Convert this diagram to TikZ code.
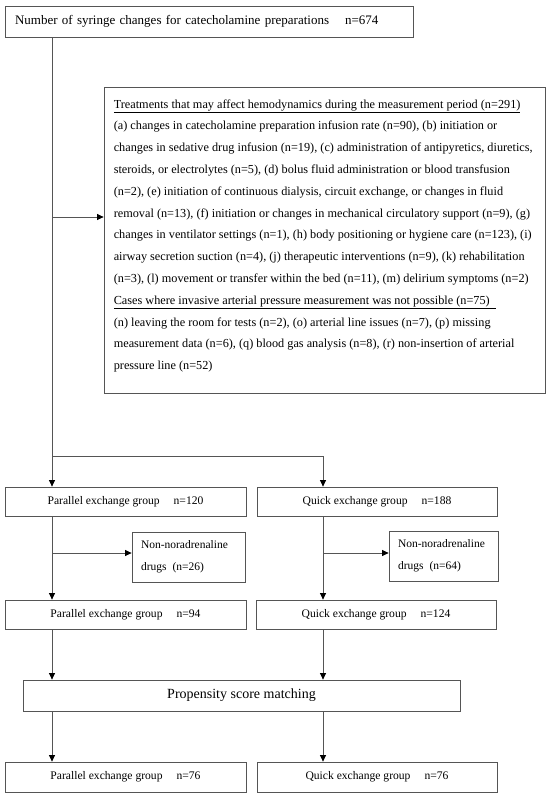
\documentclass[tikz,border=0pt]{standalone}
\usepackage{fontspec}
\setmainfont{Liberation Serif}
\usetikzlibrary{arrows.meta}
\definecolor{linec}{HTML}{555555}
\begin{document}
\begin{tikzpicture}[x=1pt,y=-1pt,
  box/.style={draw=linec,line width=0.8pt,rectangle,inner sep=0pt},
  grp/.style={box,minimum height=29pt,font=\fontsize{11.6}{14}\selectfont},
  arr/.style={draw=linec,line width=0.8pt,-{Triangle[length=6.5pt,width=6pt,color=black]}},
  ln/.style={draw=linec,line width=0.8pt}]
\useasboundingbox (0,0) rectangle (550,797);
% nodes
\node[box,minimum height=31pt,text width=388pt,inner xsep=10pt,align=left,
  font=\fontsize{13}{15}\selectfont] (top) at (209,21.5)
  {Number of syringe changes for catecholamine preparations\hspace{16pt}n=674};
\node[box,minimum width=441pt,minimum height=306pt] (treat) at (324.5,240) {};
\node[anchor=north west,inner sep=0pt,align=left,
  font=\fontsize{12.25}{21.8}\selectfont] (treattext) at ([shift={(10,12.6)}]treat.north west)
  {\underline{Treatments that may affect hemodynamics during the measurement period (n=291)}\\
  (a) changes in catecholamine preparation infusion rate (n=90), (b) initiation or\\
  changes in sedative drug infusion (n=19), (c) administration of antipyretics, diuretics,\\
  steroids, or electrolytes (n=5), (d) bolus fluid administration or blood transfusion\\
  (n=2), (e) initiation of continuous dialysis, circuit exchange, or changes in fluid\\
  removal (n=13), (f) initiation or changes in mechanical circulatory support (n=9), (g)\\
  changes in ventilator settings (n=1), (h) body positioning or hygiene care (n=123), (i)\\
  airway secretion suction (n=4), (j) therapeutic interventions (n=9), (k) rehabilitation\\
  (n=3), (l) movement or transfer within the bed (n=11), (m) delirium symptoms (n=2)\\
  \underline{Cases where invasive arterial pressure measurement was not possible (n=75)\hspace{6pt}}\\
  (n) leaving the room for tests (n=2), (o) arterial line issues (n=7), (p) missing\\
  measurement data (n=6), (q) blood gas analysis (n=8), (r) non-insertion of arterial\\
  pressure line (n=52)};
\node[grp,minimum width=241pt] (p1) at (125.5,501.5) {Parallel exchange group\hspace{14pt}n=120};
\node[grp,minimum width=240pt] (q1) at (377,501.5) {Quick exchange group\hspace{14pt}n=188};
\node[box,minimum height=50pt,text width=95pt,inner xsep=9pt,align=left,
  font=\fontsize{11.5}{22}\selectfont] (nl) at (188.5,557) {Non-noradrenaline\\drugs\hspace{6pt}(n=26)};
\node[box,minimum height=50pt,text width=91pt,inner xsep=9pt,align=left,
  font=\fontsize{11.5}{22}\selectfont] (nr) at (443.5,556) {Non-noradrenaline\\drugs\hspace{6pt}(n=64)};
\node[grp,minimum width=241pt] (p2) at (125.5,614.5) {Parallel exchange group\hspace{14pt}n=94};
\node[grp,minimum width=240pt] (q2) at (376,614.5) {Quick exchange group\hspace{14pt}n=124};
\node[box,minimum width=437pt,minimum height=31pt,font=\fontsize{14}{16}\selectfont] (psm) at (241.5,695.5) {Propensity score matching};
\node[grp,minimum width=241pt,minimum height=30pt] (p3) at (125.5,777) {Parallel exchange group\hspace{14pt}n=76};
\node[grp,minimum width=240pt,minimum height=30pt] (q3) at (377,777) {Quick exchange group\hspace{14pt}n=76};
% coordinates
\coordinate (lx) at (52,0);
\coordinate (rx) at (323,0);
\coordinate (split) at (52,456);
\coordinate (j1) at (52,217);
\coordinate (j2) at (52,553);
\coordinate (j3) at (323,553);
% connectors
\draw[ln] (top.south -| lx) -- (split);
\draw[arr] (j1) -- (j1 -| treat.west);
\draw[arr] (split) -- (p1.north -| lx);
\draw[arr] (split) -| (q1.north -| rx);
\draw[arr] (p1.south -| lx) -- (p2.north -| lx);
\draw[arr] (j2) -- (j2 -| nl.west);
\draw[arr] (q1.south -| rx) -- (q2.north -| rx);
\draw[arr] (j3) -- (j3 -| nr.west);
\draw[arr] (p2.south -| lx) -- (psm.north -| lx);
\draw[arr] (q2.south -| rx) -- (psm.north -| rx);
\draw[arr] (psm.south -| lx) -- (p3.north -| lx);
\draw[arr] (psm.south -| rx) -- (q3.north -| rx);
\end{tikzpicture}
\end{document}
